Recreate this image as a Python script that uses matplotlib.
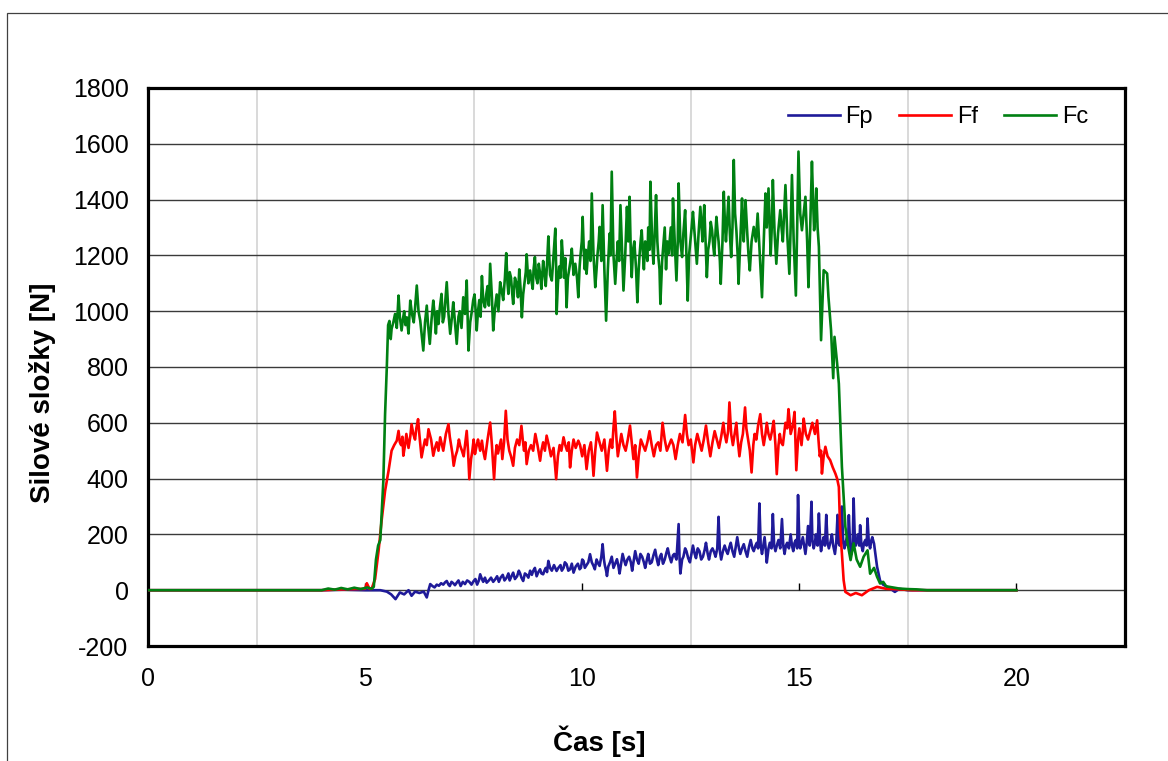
import numpy as np
import matplotlib.pyplot as plt
from matplotlib.patches import Rectangle

plt.rcParams['font.family'] = ['Liberation Sans', 'DejaVu Sans']
plt.rcParams['axes.unicode_minus'] = False

# (time [s], force [N])
fp_pts = [(0, 0), (4.0, 0), (4.5, 2), (5.0, 0), (5.2, 0), (5.35, 0), (5.5, -5), (5.6, -15), (5.7, -32),
          (5.8, -8), (5.9, -15), (6.0, 0), (6.07, -20), (6.15, -5), (6.25, -10), (6.35, -5), (6.42, -26),
          (6.46, 0), (6.5, 22), (6.55, 15), (6.6, 10), (6.65, 20), (6.7, 16), (6.75, 25), (6.8, 20),
          (6.84, 28), (6.88, 33), (6.92, 20), (6.95, 15), (6.99, 30), (7.03, 25), (7.07, 18), (7.11, 27),
          (7.15, 35), (7.2, 15), (7.25, 30), (7.3, 22), (7.35, 35), (7.4, 30), (7.45, 20), (7.5, 33),
          (7.54, 40), (7.58, 20), (7.62, 35), (7.65, 57), (7.69, 40), (7.72, 30), (7.76, 45), (7.8, 27),
          (7.85, 35), (7.9, 45), (7.95, 30), (8.0, 40), (8.04, 50), (8.08, 30), (8.12, 45), (8.17, 55),
          (8.21, 35), (8.26, 45), (8.3, 60), (8.33, 35), (8.37, 50), (8.41, 63), (8.45, 40), (8.5, 50),
          (8.54, 70), (8.57, 60), (8.6, 45), (8.64, 33), (8.68, 60), (8.72, 55), (8.76, 45), (8.8, 70),
          (8.84, 55), (8.87, 69), (8.91, 80), (8.95, 50), (8.99, 65), (9.03, 75), (9.06, 60), (9.1, 57),
          (9.13, 70), (9.16, 80), (9.19, 65), (9.22, 105), (9.26, 80), (9.3, 70), (9.35, 90), (9.41, 69),
          (9.45, 80), (9.5, 90), (9.53, 70), (9.57, 80), (9.6, 100), (9.64, 93), (9.68, 70), (9.72, 75),
          (9.76, 95), (9.8, 63), (9.85, 85), (9.9, 95), (9.94, 75), (9.97, 80), (10.0, 110), (10.03, 105),
          (10.06, 80), (10.1, 90), (10.14, 100), (10.18, 129), (10.22, 100), (10.26, 87), (10.29, 75),
          (10.33, 110), (10.37, 95), (10.4, 87), (10.44, 120), (10.47, 165), (10.5, 110), (10.52, 90),
          (10.55, 70), (10.57, 51), (10.6, 85), (10.64, 100), (10.68, 120), (10.72, 80), (10.76, 95),
          (10.8, 111), (10.83, 90), (10.86, 60), (10.9, 100), (10.93, 130), (10.97, 105), (11.0, 90),
          (11.04, 110), (11.08, 120), (11.12, 100), (11.15, 70), (11.19, 110), (11.22, 140), (11.26, 110),
          (11.3, 95), (11.34, 130), (11.38, 120), (11.42, 100), (11.45, 80), (11.49, 110), (11.52, 130),
          (11.56, 95), (11.6, 100), (11.64, 125), (11.68, 145), (11.72, 110), (11.75, 90), (11.79, 120),
          (11.82, 130), (11.86, 95), (11.9, 110), (11.94, 135), (11.97, 150), (12.01, 120), (12.05, 100),
          (12.09, 125), (12.12, 130), (12.17, 110), (12.22, 237), (12.24, 120), (12.26, 60), (12.3, 110),
          (12.33, 120), (12.37, 150), (12.4, 140), (12.44, 115), (12.48, 100), (12.52, 135), (12.55, 160),
          (12.59, 130), (12.62, 115), (12.66, 150), (12.7, 140), (12.74, 110), (12.78, 120), (12.82, 145),
          (12.85, 170), (12.89, 130), (12.92, 110), (12.96, 140), (13.0, 150), (13.04, 135), (13.07, 120),
          (13.11, 150), (13.14, 263), (13.17, 140), (13.2, 110), (13.24, 140), (13.28, 160), (13.32, 140),
          (13.35, 130), (13.39, 155), (13.42, 170), (13.46, 140), (13.5, 120), (13.54, 160), (13.57, 190),
          (13.61, 150), (13.64, 130), (13.68, 150), (13.72, 165), (13.76, 140), (13.8, 120), (13.84, 155),
          (13.88, 180), (13.92, 150), (13.95, 140), (13.99, 160), (14.02, 170), (14.05, 150), (14.08, 311),
          (14.11, 160), (14.14, 130), (14.17, 160), (14.2, 190), (14.23, 140), (14.25, 99), (14.29, 150),
          (14.32, 170), (14.36, 150), (14.39, 273), (14.42, 160), (14.45, 140), (14.49, 165), (14.52, 180),
          (14.56, 150), (14.6, 255), (14.63, 160), (14.66, 130), (14.69, 160), (14.72, 170), (14.76, 150),
          (14.8, 200), (14.83, 160), (14.86, 140), (14.89, 170), (14.92, 180), (14.95, 150), (14.97, 341),
          (15.0, 170), (15.02, 150), (15.05, 170), (15.08, 190), (15.11, 160), (15.14, 130), (15.17, 170),
          (15.2, 230), (15.24, 160), (15.28, 317), (15.3, 180), (15.33, 150), (15.36, 170), (15.38, 200),
          (15.42, 160), (15.45, 275), (15.48, 170), (15.5, 140), (15.53, 170), (15.56, 190), (15.59, 160),
          (15.62, 270), (15.65, 170), (15.68, 150), (15.72, 175), (15.75, 200), (15.78, 160), (15.82, 130),
          (15.85, 170), (15.88, 270), (15.9, 170), (15.93, 160), (15.95, 180), (15.98, 300), (16.01, 170),
          (16.04, 150), (16.07, 175), (16.1, 190), (16.12, 160), (16.14, 269), (16.17, 160), (16.2, 130),
          (16.23, 170), (16.25, 329), (16.28, 170), (16.3, 160), (16.33, 180), (16.35, 200), (16.38, 160),
          (16.4, 233), (16.43, 160), (16.46, 140), (16.49, 170), (16.52, 180), (16.55, 160), (16.57, 257),
          (16.6, 170), (16.63, 150), (16.66, 180), (16.68, 190), (16.72, 167), (16.79, 84), (16.86, 34),
          (16.93, 20), (17.0, 14), (17.1, 5), (17.2, -6), (17.3, 5), (17.5, 0), (18.0, 0), (20.0, 0)]

ff_pts = [(0, 0), (4.0, 0), (4.5, 3), (5.0, 5), (5.04, 25), (5.1, 5), (5.15, 5), (5.23, 40), (5.31, 141),
          (5.38, 249), (5.46, 356), (5.54, 428), (5.61, 500), (5.67, 520), (5.73, 536), (5.77, 571),
          (5.8, 530), (5.83, 520), (5.86, 550), (5.88, 482), (5.92, 520), (5.95, 560), (5.98, 530),
          (6.0, 510), (6.04, 550), (6.07, 595), (6.11, 560), (6.15, 540), (6.18, 580), (6.22, 613),
          (6.26, 540), (6.3, 476), (6.34, 510), (6.38, 540), (6.42, 520), (6.46, 577), (6.52, 540),
          (6.57, 482), (6.61, 510), (6.65, 530), (6.69, 500), (6.73, 548), (6.77, 520), (6.8, 500),
          (6.86, 560), (6.92, 595), (6.95, 550), (6.98, 520), (7.01, 490), (7.04, 446), (7.08, 480),
          (7.12, 500), (7.16, 540), (7.19, 518), (7.23, 500), (7.27, 480), (7.3, 520), (7.34, 571),
          (7.37, 500), (7.4, 398), (7.44, 470), (7.47, 500), (7.5, 540), (7.53, 488), (7.57, 520),
          (7.6, 540), (7.65, 500), (7.69, 536), (7.72, 500), (7.76, 470), (7.82, 540), (7.88, 601),
          (7.92, 520), (7.97, 398), (8.0, 480), (8.03, 520), (8.06, 490), (8.09, 512), (8.13, 540),
          (8.16, 470), (8.2, 530), (8.24, 643), (8.28, 540), (8.32, 500), (8.36, 480), (8.41, 446),
          (8.45, 510), (8.5, 540), (8.55, 520), (8.6, 589), (8.63, 540), (8.66, 500), (8.69, 530),
          (8.72, 452), (8.77, 500), (8.82, 520), (8.87, 500), (8.92, 560), (8.97, 520), (9.03, 464),
          (9.06, 500), (9.1, 530), (9.14, 500), (9.18, 554), (9.23, 520), (9.28, 480), (9.34, 510),
          (9.4, 398), (9.44, 480), (9.48, 520), (9.52, 500), (9.57, 548), (9.61, 520), (9.65, 500),
          (9.69, 530), (9.72, 440), (9.76, 500), (9.8, 540), (9.85, 510), (9.91, 536), (9.95, 520),
          (10.0, 480), (10.05, 520), (10.1, 434), (10.15, 500), (10.2, 530), (10.23, 480), (10.26, 410),
          (10.3, 500), (10.34, 565), (10.4, 530), (10.45, 500), (10.51, 540), (10.57, 428), (10.61, 500),
          (10.65, 540), (10.69, 510), (10.72, 583), (10.75, 641), (10.79, 540), (10.82, 480), (10.86, 520),
          (10.9, 560), (10.95, 520), (11.0, 500), (11.05, 540), (11.1, 590), (11.14, 530), (11.18, 470),
          (11.22, 520), (11.26, 404), (11.3, 480), (11.35, 540), (11.4, 520), (11.45, 500), (11.5, 530),
          (11.55, 570), (11.6, 520), (11.65, 480), (11.7, 520), (11.75, 530), (11.8, 500), (11.85, 600),
          (11.9, 540), (11.95, 500), (12.0, 520), (12.05, 540), (12.1, 520), (12.15, 470), (12.2, 520),
          (12.25, 560), (12.31, 530), (12.37, 628), (12.41, 560), (12.45, 520), (12.5, 540), (12.56, 458),
          (12.6, 520), (12.65, 560), (12.7, 530), (12.75, 500), (12.8, 540), (12.85, 590), (12.9, 530),
          (12.95, 480), (13.0, 530), (13.05, 570), (13.1, 540), (13.15, 510), (13.2, 550), (13.25, 600),
          (13.28, 560), (13.32, 530), (13.36, 570), (13.39, 673), (13.43, 560), (13.47, 520), (13.51, 560),
          (13.55, 600), (13.58, 540), (13.62, 480), (13.66, 530), (13.7, 560), (13.75, 655), (13.78, 580),
          (13.82, 540), (13.86, 500), (13.9, 422), (13.94, 520), (13.97, 560), (14.01, 540), (14.05, 590),
          (14.1, 631), (14.14, 560), (14.18, 520), (14.22, 560), (14.25, 600), (14.29, 560), (14.33, 540),
          (14.37, 570), (14.41, 607), (14.45, 520), (14.48, 416), (14.52, 520), (14.55, 560), (14.58, 530),
          (14.62, 520), (14.65, 560), (14.68, 600), (14.72, 580), (14.75, 649), (14.78, 600), (14.8, 560),
          (14.85, 590), (14.89, 639), (14.93, 430), (14.97, 540), (15.0, 580), (15.05, 520), (15.08, 570),
          (15.1, 615), (15.15, 560), (15.2, 540), (15.25, 570), (15.3, 600), (15.36, 560), (15.41, 609),
          (15.44, 540), (15.47, 480), (15.5, 500), (15.52, 418), (15.56, 480), (15.6, 514), (15.65, 480),
          (15.71, 466), (15.77, 440), (15.83, 418), (15.87, 400), (15.91, 370), (15.94, 215), (15.98, 132),
          (16.02, 36), (16.06, -6), (16.18, -18), (16.3, -10), (16.44, -18), (16.6, 0), (16.79, 12),
          (17.0, 5), (17.3, 3), (17.6, 0), (18.0, 0), (20.0, 0)]

fc_pts = [(0, 0), (4.0, 0), (4.15, 6), (4.3, 2), (4.45, 8), (4.6, 3), (4.75, 9), (4.9, 4), (5.05, 10),
          (5.15, 5), (5.2, 12), (5.25, 110), (5.3, 160), (5.35, 180), (5.42, 392), (5.46, 631), (5.5, 800),
          (5.53, 950), (5.56, 965), (5.59, 900), (5.61, 937), (5.65, 960), (5.69, 990), (5.73, 940),
          (5.77, 1056), (5.8, 980), (5.84, 931), (5.87, 970), (5.9, 1000), (5.93, 950), (5.96, 978),
          (6.0, 920), (6.04, 1038), (6.08, 990), (6.12, 960), (6.15, 1010), (6.19, 1092), (6.23, 1000),
          (6.27, 966), (6.3, 920), (6.34, 859), (6.38, 960), (6.42, 1020), (6.45, 950), (6.49, 883),
          (6.53, 970), (6.57, 1038), (6.6, 990), (6.63, 920), (6.66, 1000), (6.69, 954), (6.72, 1010),
          (6.76, 1062), (6.79, 960), (6.82, 980), (6.85, 1040), (6.88, 1104), (6.92, 990), (6.96, 919),
          (7.0, 980), (7.03, 1032), (7.07, 960), (7.11, 883), (7.15, 980), (7.18, 1000), (7.22, 940),
          (7.26, 1050), (7.3, 990), (7.34, 1110), (7.36, 980), (7.38, 859), (7.42, 960), (7.46, 1002),
          (7.49, 1040), (7.52, 1060), (7.55, 990), (7.57, 931), (7.6, 1000), (7.63, 1040), (7.66, 980),
          (7.69, 1126), (7.72, 1040), (7.76, 1014), (7.79, 1060), (7.82, 1090), (7.85, 1020), (7.88, 1170),
          (7.92, 1050), (7.95, 931), (7.99, 1010), (8.03, 1060), (8.07, 1000), (8.11, 1104), (8.15, 1070),
          (8.18, 1040), (8.22, 1120), (8.25, 1208), (8.28, 1100), (8.3, 1062), (8.33, 1140), (8.36, 1120),
          (8.39, 1060), (8.41, 1026), (8.45, 1120), (8.49, 1098), (8.52, 1050), (8.55, 1150), (8.58, 1080),
          (8.61, 978), (8.64, 1060), (8.67, 1100), (8.7, 1140), (8.72, 1204), (8.76, 1100), (8.8, 1146),
          (8.83, 1110), (8.86, 1080), (8.88, 1150), (8.91, 1194), (8.94, 1120), (8.97, 1100), (9.0, 1170),
          (9.03, 1134), (9.06, 1080), (9.1, 1180), (9.13, 1140), (9.16, 1090), (9.19, 1170), (9.22, 1268),
          (9.26, 1130), (9.3, 1110), (9.34, 1200), (9.38, 1296), (9.4, 1150), (9.41, 990), (9.44, 1100),
          (9.47, 1160), (9.5, 1120), (9.53, 1254), (9.56, 1180), (9.58, 1120), (9.61, 1190), (9.64, 1014),
          (9.67, 1120), (9.7, 1150), (9.73, 1180), (9.76, 1224), (9.8, 1130), (9.84, 1170), (9.88, 1120),
          (9.91, 1050), (9.94, 1160), (9.96, 1200), (9.99, 1250), (10.01, 1338), (10.04, 1200),
          (10.06, 1150), (10.08, 1220), (10.1, 1134), (10.13, 1200), (10.16, 1250), (10.19, 1180),
          (10.22, 1422), (10.26, 1200), (10.3, 1086), (10.33, 1150), (10.35, 1200), (10.38, 1250),
          (10.4, 1302), (10.44, 1180), (10.47, 1380), (10.51, 1150), (10.55, 966), (10.59, 1150),
          (10.63, 1278), (10.65, 1200), (10.68, 1500), (10.72, 1200), (10.76, 1098), (10.79, 1180),
          (10.82, 1250), (10.85, 1180), (10.88, 1380), (10.92, 1200), (10.95, 1074), (10.99, 1200),
          (11.03, 1374), (11.06, 1250), (11.09, 1410), (11.12, 1200), (11.14, 1122), (11.17, 1220),
          (11.2, 1250), (11.24, 1150), (11.27, 1032), (11.3, 1150), (11.32, 1200), (11.35, 1260),
          (11.37, 1290), (11.4, 1200), (11.42, 1150), (11.45, 1250), (11.47, 1230), (11.5, 1180),
          (11.52, 1300), (11.55, 1220), (11.57, 1464), (11.61, 1250), (11.64, 1170), (11.67, 1280),
          (11.7, 1416), (11.73, 1250), (11.75, 1200), (11.78, 1150), (11.8, 1026), (11.84, 1180),
          (11.87, 1242), (11.9, 1300), (11.93, 1150), (11.96, 1250), (11.99, 1206), (12.02, 1260),
          (12.04, 1300), (12.07, 1200), (12.09, 1404), (12.13, 1250), (12.17, 1110), (12.2, 1250),
          (12.22, 1458), (12.26, 1250), (12.3, 1194), (12.33, 1280), (12.37, 1362), (12.4, 1200),
          (12.43, 1038), (12.46, 1200), (12.49, 1250), (12.52, 1300), (12.55, 1356), (12.6, 1250),
          (12.64, 1170), (12.68, 1280), (12.72, 1374), (12.75, 1300), (12.77, 1250), (12.79, 1320),
          (12.81, 1380), (12.84, 1250), (12.87, 1122), (12.9, 1220), (12.93, 1250), (12.96, 1320),
          (12.99, 1290), (13.02, 1230), (13.04, 1200), (13.07, 1280), (13.09, 1338), (13.12, 1280),
          (13.14, 1250), (13.17, 1180), (13.19, 1098), (13.23, 1250), (13.26, 1428), (13.29, 1300),
          (13.31, 1250), (13.34, 1330), (13.37, 1410), (13.4, 1280), (13.43, 1194), (13.46, 1300),
          (13.49, 1542), (13.52, 1350), (13.55, 1290), (13.58, 1200), (13.6, 1098), (13.64, 1250),
          (13.68, 1404), (13.7, 1300), (13.72, 1250), (13.74, 1330), (13.76, 1398), (13.8, 1280),
          (13.83, 1200), (13.86, 1146), (13.9, 1250), (13.95, 1302), (14.0, 1250), (14.04, 1350),
          (14.09, 1200), (14.14, 1050), (14.18, 1250), (14.22, 1422), (14.25, 1300), (14.29, 1440),
          (14.32, 1300), (14.34, 1200), (14.37, 1320), (14.39, 1470), (14.43, 1280), (14.47, 1170),
          (14.51, 1280), (14.56, 1362), (14.59, 1300), (14.62, 1250), (14.65, 1350), (14.68, 1452),
          (14.72, 1280), (14.77, 1134), (14.8, 1300), (14.83, 1488), (14.87, 1250), (14.92, 1056),
          (14.95, 1300), (14.98, 1572), (15.02, 1350), (15.06, 1290), (15.1, 1350), (15.14, 1410),
          (15.18, 1250), (15.21, 1086), (15.25, 1300), (15.29, 1536), (15.32, 1380), (15.34, 1290),
          (15.37, 1350), (15.39, 1440), (15.42, 1300), (15.45, 1231), (15.5, 896), (15.56, 1147),
          (15.64, 1135), (15.67, 1052), (15.73, 932), (15.78, 760), (15.81, 908), (15.87, 813), (15.91, 740),
          (15.98, 443), (16.02, 335), (16.06, 227), (16.12, 160), (16.18, 108), (16.25, 168), (16.32, 110),
          (16.4, 84), (16.48, 120), (16.57, 143), (16.63, 59), (16.72, 80), (16.79, 48), (16.86, 24),
          (16.93, 30), (17.0, 14), (17.15, 10), (17.3, 6), (17.5, 4), (17.7, 3), (17.94, 0), (18.0, 0),
          (20.0, 0)]

series_names = ['Fp', 'Ff', 'Fc']
series_colors = ['#1f1a99', '#ff0000', '#008012']
x_ticks = [0, 5, 10, 15, 20]
y_ticks = list(range(-200, 1801, 200))

fig = plt.figure(figsize=(11.68, 7.61), dpi=100)
ax = fig.add_axes([0.1267, 0.1511, 0.8365, 0.7333])

for pts, name, col in zip([fp_pts, ff_pts, fc_pts], series_names, series_colors):
    t, v = np.array(pts).T
    ax.plot(t, v, color=col, lw=1.9, label=name, zorder=3)

ax.set_xlim(0, 22.5)
ax.set_ylim(-200, 1800)
ax.set_xticks(x_ticks)
ax.set_xticks(np.arange(0, 22.5, 2.5), minor=True)
ax.set_yticks(y_ticks)
ax.grid(axis='y', which='major', color='#3a3a3a', lw=1.0, zorder=1)
ax.grid(axis='x', which='minor', color='#d9d9d9', lw=1.4, zorder=0)
ax.tick_params(axis='both', which='both', length=0, labelsize=18)
ax.tick_params(axis='y', pad=14)
ax.tick_params(axis='x', pad=15)
for s in ax.spines.values():
    s.set_linewidth(2.3)
    s.set_color('black')

# small tick marks on the zero line (Excel style)
ax.vlines(x_ticks[1:], 0, 25, color='black', lw=1.0, zorder=2)

ax.set_xlabel('Čas [s]', fontsize=20, fontweight='bold')
ax.set_ylabel('Silové složky [N]', fontsize=20, fontweight='bold')
ax.xaxis.set_label_coords(0.462, -0.142)
ax.yaxis.set_label_coords(-0.094, 0.453)

ax.legend(loc='center right', bbox_to_anchor=(0.962, 0.948), ncol=3, frameon=False, fontsize=17,
          handlelength=2.2, handletextpad=0.25, columnspacing=1.1, borderpad=0, borderaxespad=0)

# outer chart border
fig.patches.append(Rectangle((0.006, -0.1), 1.2, 1.083, transform=fig.transFigure,
                             fill=False, edgecolor='#404040', lw=0.9))

fig.savefig('out.png', dpi=100)
